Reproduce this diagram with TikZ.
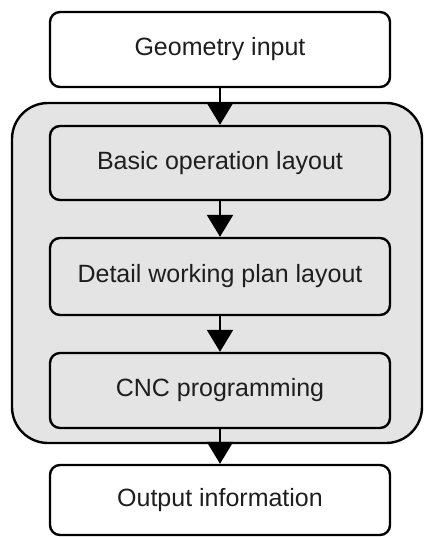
\documentclass[tikz,border=0pt]{standalone}
\usepackage{fontspec}
\setmainfont{Liberation Sans}
\usetikzlibrary{arrows.meta}
\definecolor{panel}{HTML}{E4E4E4}
\definecolor{ink}{HTML}{1E1E1E}
\begin{document}
\begin{tikzpicture}[x=1pt,y=-1pt,
  stepbox/.style={draw=black, line width=2.4pt, rounded corners=10pt,
    minimum width=340pt, text=ink,
    font=\fontsize{25}{30}\selectfont},
  flow/.style={line width=2.4pt, -{Triangle[length=22pt,width=26pt]}}]
  \useasboundingbox (0,0) rectangle (425,537);
  % shaded group around the three planning steps
  \node[draw=black, line width=2.4pt, fill=panel, rounded corners=36pt,
    minimum width=410pt, minimum height=340pt] (group) at (217,273) {};
  \node[stepbox, fill=white, minimum height=75pt] (geo) at (220,49.5) {Geometry input};
  \node[stepbox, fill=panel, minimum height=74pt] (basic) at (220,163) {Basic operation layout};
  \node[stepbox, fill=panel, minimum height=77pt] (detail) at (220,276.5) {Detail working plan layout};
  \node[stepbox, fill=panel, minimum height=75pt] (cnc) at (220,390.5) {CNC programming};
  \node[stepbox, fill=white, minimum height=70pt] (out) at (220,500) {Output information};
  \draw[flow] (geo) -- (basic);
  \draw[flow] (basic) -- (detail);
  \draw[flow] (detail) -- (cnc);
  \draw[flow] (cnc) -- (out);
\end{tikzpicture}
\end{document}
